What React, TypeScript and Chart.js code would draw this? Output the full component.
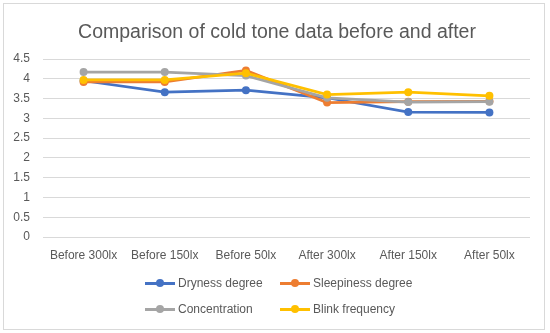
import React, { useEffect, useRef } from "react";
import { Chart, registerables } from "chart.js";

Chart.register(...registerables);

const title = "Comparison of cold tone data before and after";
const categories = ["Before 300lx", "Before 150lx", "Before 50lx", "After 300lx", "After 150lx", "After 50lx"];
const seriesNames = ["Dryness degree", "Sleepiness degree", "Concentration", "Blink frequency"];
const dryness = [3.95, 3.66, 3.71, 3.52, 3.16, 3.15];
const sleepiness = [3.92, 3.92, 4.21, 3.4, 3.42, 3.43];
const concentration = [4.17, 4.17, 4.08, 3.52, 3.41, 3.42];
const blink = [3.97, 3.97, 4.14, 3.6, 3.66, 3.57];
const seriesColors = ["#4472C4", "#ED7D31", "#A5A5A5", "#FFC000"];
const yMin = 0;
const yMax = 4.5;
const yStep = 0.5;

const FONT = "'Liberation Sans', Arial, sans-serif";
const TEXT = "#595959";

function LegendItem({ left, top, color, label }: { left: number; top: number; color: string; label: string }) {
  return (
    <div style={{ position: "absolute", left, top, height: 16, display: "flex", alignItems: "center", whiteSpace: "nowrap" }}>
      <div style={{ position: "relative", width: 30, height: 16 }}>
        <div style={{ position: "absolute", left: 0, top: 6.5, width: 30, height: 3, background: color }} />
        <div style={{ position: "absolute", left: 11, top: 4, width: 8, height: 8, borderRadius: 4, background: color }} />
      </div>
      <span style={{ marginLeft: 3, font: `12px ${FONT}`, color: TEXT, lineHeight: "16px" }}>{label}</span>
    </div>
  );
}

export default function App() {
  const ref = useRef<HTMLCanvasElement>(null);

  useEffect(() => {
    const values = [dryness, sleepiness, concentration, blink];
    const chart = new Chart(ref.current!, {
      type: "line",
      data: {
        labels: categories,
        datasets: values.map((d, i) => ({
          label: seriesNames[i],
          data: d,
          borderColor: seriesColors[i],
          backgroundColor: seriesColors[i],
          borderWidth: 2.75,
          pointRadius: 4,
          pointBorderWidth: 0,
          pointBackgroundColor: seriesColors[i],
          tension: 0,
          order: 3 - i,
        })),
      },
      options: {
        responsive: false,
        animation: false,
        layout: { padding: { top: 59, right: 20, left: 0, bottom: 0 } },
        plugins: {
          legend: { display: false },
          title: { display: false },
          tooltip: { enabled: false },
        },
        scales: {
          x: {
            offset: true,
            grid: { display: false, drawTicks: false, offset: true },
            border: { display: false },
            ticks: { color: TEXT, font: { family: FONT, size: 12 }, padding: 11, maxRotation: 0, autoSkip: false },
            afterFit: (s: any) => {
              s.height = 96;
            },
          },
          y: {
            min: yMin,
            max: yMax,
            ticks: {
              stepSize: yStep,
              padding: 13,
              color: TEXT,
              font: { family: FONT, size: 12 },
              callback: (v: any) => String(Number(v)),
            },
            grid: { color: "#d9d9d9", drawTicks: false, lineWidth: 1 },
            border: { display: false },
            afterFit: (s: any) => {
              s.width = 43;
            },
          },
        },
      },
    });
    return () => chart.destroy();
  }, []);

  return (
    <div style={{ position: "absolute", left: 0, top: 0, width: 550, height: 333, background: "#fff" }}>
      <div
        style={{
          position: "absolute",
          left: 3,
          top: 3,
          width: 542,
          height: 327,
          boxSizing: "border-box",
          border: "1px solid #d9d9d9",
        }}
      />
      <canvas ref={ref} width={550} height={333} style={{ position: "absolute", left: 0, top: 0, display: "block" }} />
      <div
        style={{
          position: "absolute",
          left: 0,
          top: 19,
          width: 554,
          textAlign: "center",
          font: `19.5px ${FONT}`,
          lineHeight: "24px",
          color: TEXT,
        }}
      >
        {title}
      </div>
      <LegendItem left={145} top={275} color={seriesColors[0]} label={seriesNames[0]} />
      <LegendItem left={280} top={275} color={seriesColors[1]} label={seriesNames[1]} />
      <LegendItem left={145} top={301} color={seriesColors[2]} label={seriesNames[2]} />
      <LegendItem left={280} top={301} color={seriesColors[3]} label={seriesNames[3]} />
    </div>
  );
}
